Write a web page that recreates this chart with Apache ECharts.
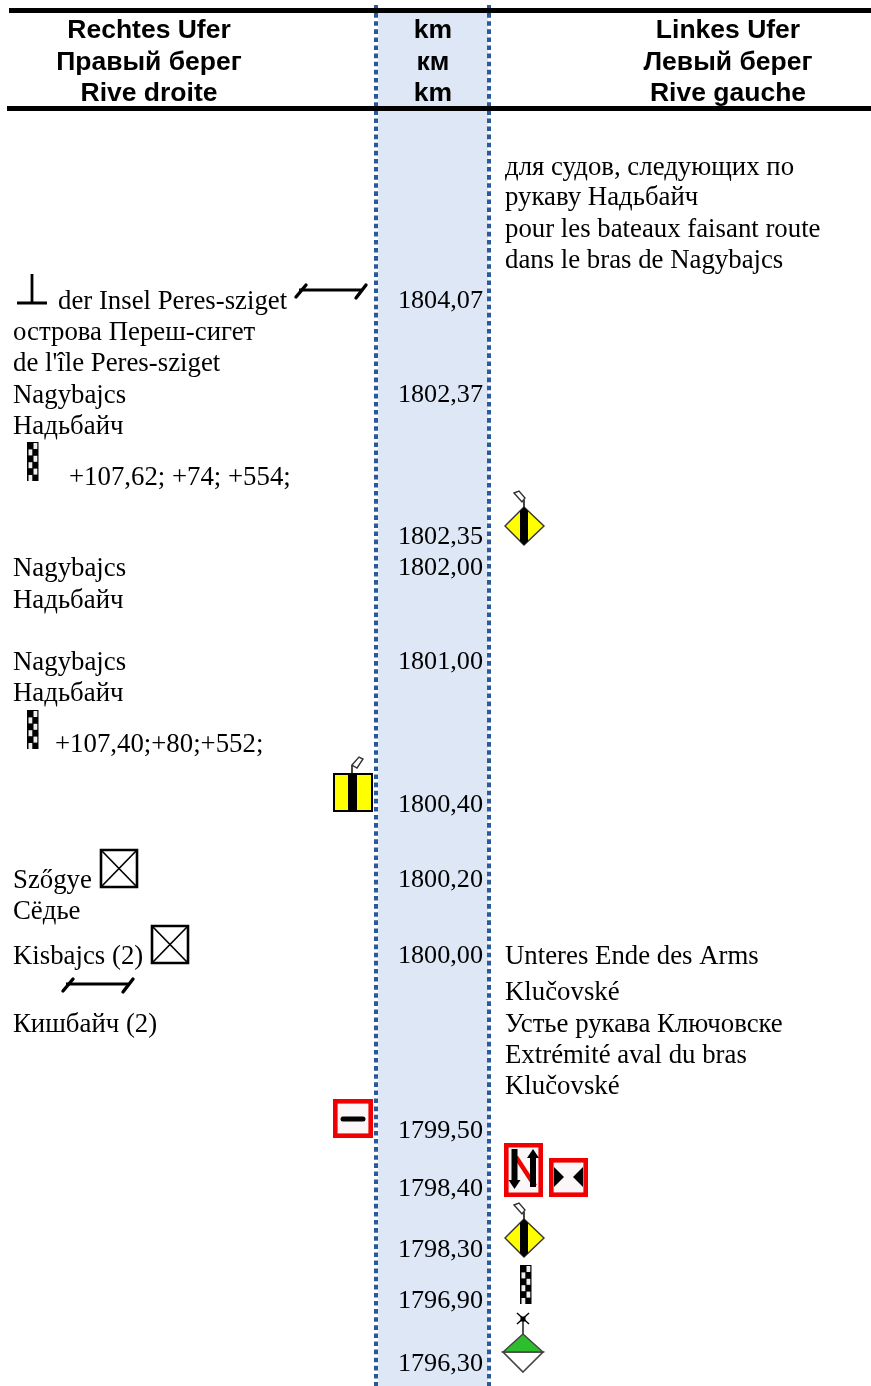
<!DOCTYPE html>
<html lang="en">
<head>
<meta charset="UTF-8" />
<title>Rive droite / Rive gauche</title>
<style>
	* { box-sizing: border-box; margin: 0; padding: 0; }
	html, body { background: #fff; }
	#chart { width: 871px; height: 1386px; }
</style>
</head>
<body>
<div id="chart"></div>
<script src="https://cdn.jsdelivr.net/npm/echarts@6/dist/echarts.min.js"></script>
<script>
// table content
const headerRight = ['Rechtes Ufer', 'Правый берег', 'Rive droite']
const headerKm = ['km', 'км', 'km']
const headerLeft = ['Linkes Ufer', 'Левый берег', 'Rive gauche']
const kmLabels = ['1804,07', '1802,37', '1802,35', '1802,00', '1801,00', '1800,40', '1800,20', '1800,00', '1799,50', '1798,40', '1798,30', '1796,90', '1796,30']
const rightText = ['der Insel Peres-sziget', 'острова Переш-сигет', "de l'île Peres-sziget", 'Nagybajcs', 'Надьбайч', '+107,62; +74; +554;', 'Nagybajcs', 'Надьбайч', 'Nagybajcs', 'Надьбайч', '+107,40;+80;+552;', 'Szőgye', 'Сёдье', 'Kisbajcs (2)', 'Кишбайч (2)']
const leftText = ['для судов, следующих по', 'рукаву Надьбайч', 'pour les bateaux faisant route', 'dans le bras de Nagybajcs', 'Unteres Ende des Arms', 'Klučovské', 'Устье рукава Ключовске', 'Extrémité aval du bras', 'Klučovské']
const signNames = ['tee', 'span', 'checker', 'diamond', 'checker', 'square', 'cross', 'cross', 'span', 'minus', 'north', 'pinch', 'diamond', 'checker', 'green']

// page layout, same pixel units as the axes
const W = 871
const H = 1386
const headerY = [31, 63, 94]
const kmY = [301.5, 395.5, 537.5, 568.5, 662.5, 805.5, 880.5, 956.5, 1131.5, 1189.5, 1250.5, 1301.5, 1364.5]
const rightY = [301.5, 332.5, 363.5, 395.5, 426.5, 477.5, 568.5, 600.5, 662.5, 693.5, 744.5, 880.5, 911.5, 956.5, 1024.5]
const rightX = [58, 13, 13, 13, 13, 69, 13, 13, 13, 13, 55, 13, 13, 13, 13]
const leftY = [167.5, 197.5, 229.5, 260.5, 956.5, 992.5, 1024.5, 1055.5, 1086.5]
const signX = [17, 293, 27, 505, 27, 333, 100, 151, 60, 333, 504, 549, 505, 520, 503]
const signY = [273, 284, 442, 491, 710, 757, 849, 925, 978, 1099, 1143, 1158, 1203, 1265, 1313]

const SERIF = '"Liberation Serif", "Times New Roman", serif'
const SANS = '"Liberation Sans", Arial, sans-serif'
const BLACK = '#000'
const RED = '#f00000'

// font: 2 header, 1 running text, 0 km figures
function zip(texts, xs, ys, align, font) {
	return texts.map((t, i) => [Array.isArray(xs) ? xs[i] : xs, ys[i], t, align, font])
}

const textData = [
	...zip(headerRight, 149, headerY, 'center', 2),
	...zip(headerKm, 433, headerY, 'center', 2),
	...zip(headerLeft, 728, headerY, 'center', 2),
	...zip(kmLabels, 483, kmY, 'right', 0),
	...zip(rightText, rightX, rightY, 'left', 1),
	...zip(leftText, 505, leftY, 'left', 1)
]
const fonts = ['26.2px ' + SERIF, '26.8px ' + SERIF, 'bold 26.5px ' + SANS]

function line(x1, y1, x2, y2, w, color, cap) {
	return { type: 'line', shape: { x1, y1, x2, y2 }, style: { stroke: color || BLACK, lineWidth: w, lineCap: cap || 'butt' } }
}
function rect(x, y, w, h, fill, stroke, lw) {
	return { type: 'rect', shape: { x, y, width: w, height: h }, style: { fill: fill || 'none', stroke: stroke || 'none', lineWidth: lw || 0 } }
}
function poly(points, fill, stroke, lw) {
	return { type: 'polygon', shape: { points }, style: { fill: fill || 'none', stroke: stroke || 'none', lineWidth: lw || 0 } }
}
function redFrame(w, h) {
	return [rect(0, 0, w, h, RED), rect(4.6, 4.6, w - 9.2, h - 9.2, '#fbf6f8')]
}

// each sign is drawn from its own top left corner
const signShapes = {
	tee: () => [line(15, 1, 15, 30, 2.8), line(0, 30, 30, 30, 3)],
	span: () => [
		line(6, 6, 68, 6, 3.2),
		line(3, 13, 13, 1, 3.4, BLACK, 'round'),
		line(63, 14, 73, 1, 3.4, BLACK, 'round')
	],
	checker: () => {
		const out = [rect(0, 0, 11.5, 39, BLACK)]
		for (let r = 0; r < 6; r++) {
			out.push(rect(r % 2 ? 1.5 : 6.5, 1 + r * 6.4, 3.8, 6, '#f0f0f0'))
		}
		return out
	},
	diamond: () => [
		line(19, 9, 19, 17, 1.8, '#333'),
		poly([[9, 2], [14, 0], [20, 7], [17, 11]], '#fff', '#333', 1.4),
		poly([[19, 16], [39, 35], [19, 54], [0, 35]], '#ffff00', '#333', 1.4),
		poly([[15, 20], [19, 16], [23, 20], [23, 50], [19, 54], [15, 50]], BLACK)
	],
	square: () => [
		line(19, 8, 19, 17, 1.8, '#333'),
		poly([[19, 8], [26, 0], [30, 2], [24, 11]], '#fff', '#333', 1.4),
		rect(1, 17, 38, 37, '#ffff00', BLACK, 2),
		rect(15, 17, 9, 37, BLACK)
	],
	cross: () => [
		rect(1, 1, 36, 37, '#fff', BLACK, 2.6),
		line(1, 1, 37, 38, 1.7),
		line(37, 1, 1, 38, 1.7)
	],
	minus: () => [...redFrame(40, 39), line(10, 20, 30, 20, 5, BLACK, 'round')],
	north: () => [
		...redFrame(39, 54),
		line(12, 14, 31, 43, 4.5, RED),
		rect(7.5, 6, 6, 34, BLACK),
		poly([[4.5, 37], [16.5, 37], [10.5, 46]], BLACK),
		rect(26, 13, 6, 31, BLACK),
		poly([[23, 15], [35, 15], [29, 6]], BLACK)
	],
	pinch: () => [
		...redFrame(39, 39),
		poly([[5, 9], [15, 19], [5, 29]], BLACK),
		poly([[34, 9], [24, 19], [34, 29]], BLACK)
	],
	green: () => [
		line(20, 6, 20, 21, 2, '#555'),
		line(14, 0, 26, 11, 1.4),
		line(26, 0, 14, 11, 1.4),
		rect(17.5, 3.5, 5, 5, BLACK),
		poly([[20, 59], [40, 39], [0, 39]], '#fff', '#444', 1.6),
		poly([[20, 21], [40, 39], [0, 39]], '#2dbe2d', '#444', 1.4)
	]
}

function renderText(params, api) {
	const p = api.coord([api.value(0), api.value(1)])
	const item = textData[params.dataIndex]
	return {
		type: 'text',
		x: p[0],
		y: p[1],
		style: {
			text: item[2],
			fill: BLACK,
			font: fonts[item[4]],
			textAlign: item[3],
			textVerticalAlign: 'middle'
		}
	}
}

function renderSign(params, api) {
	const p = api.coord([api.value(0), api.value(1)])
	return { type: 'group', x: p[0], y: p[1], children: signShapes[signNames[params.dataIndex]]() }
}

function bandLine(x) {
	return {
		type: 'line',
		silent: true,
		symbol: 'none',
		z: 2,
		lineStyle: { color: '#2a5a9a', width: 4, type: [4.6, 3.5] },
		data: [[x, 5], [x, H]]
	}
}

function rule(x, y, w) {
	return {
		type: 'line',
		silent: true,
		symbol: 'none',
		z: 3,
		lineStyle: { color: BLACK, width: w },
		data: [[x, y], [W, y]]
	}
}

const chart = echarts.init(document.getElementById('chart'), null, { renderer: 'canvas' })
chart.setOption({
	animation: false,
	backgroundColor: '#fff',
	grid: { left: 0, right: 0, top: 0, bottom: 0 },
	xAxis: { type: 'value', min: 0, max: W, show: false },
	yAxis: { type: 'value', min: 0, max: H, inverse: true, show: false },
	series: [
		{
			type: 'line',
			silent: true,
			symbol: 'none',
			z: 1,
			lineStyle: { width: 0 },
			data: [[378, 12], [378, H]],
			markArea: {
				silent: true,
				itemStyle: { color: '#dde7f5' },
				data: [[{ coord: [378, 12] }, { coord: [488, H] }]]
			}
		},
		bandLine(376),
		bandLine(489),
		rule(9, 10.5, 5),
		rule(7, 108.5, 5),
		{
			type: 'custom',
			silent: true,
			z: 5,
			clip: false,
			renderItem: renderSign,
			encode: { x: 0, y: 1 },
			data: signX.map((x, i) => [x, signY[i]])
		},
		{
			type: 'custom',
			silent: true,
			z: 6,
			clip: false,
			renderItem: renderText,
			encode: { x: 0, y: 1 },
			data: textData.map(d => [d[0], d[1]])
		}
	]
})
</script>
</body>
</html>
